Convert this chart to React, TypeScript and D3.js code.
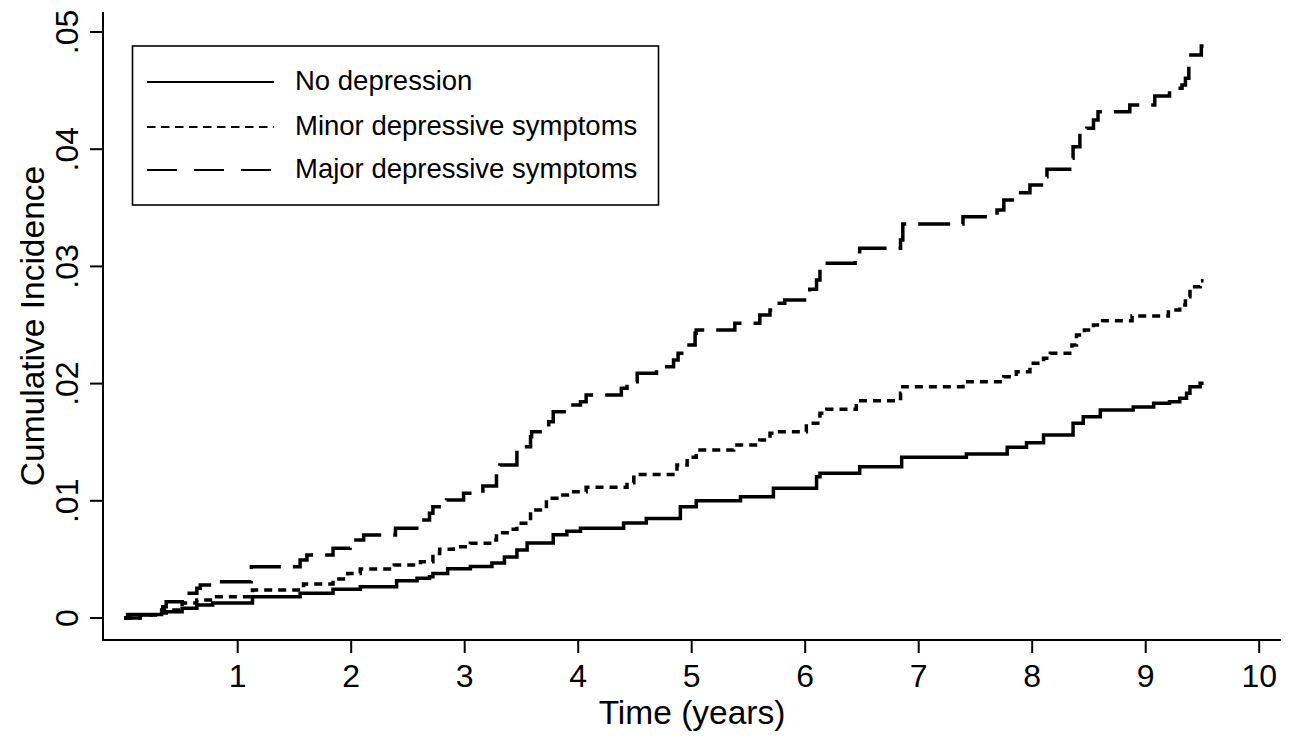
import React from 'react';
import * as d3 from 'd3';

const xTicks = [1, 2, 3, 4, 5, 6, 7, 8, 9, 10];
const yTicks = [0, 0.01, 0.02, 0.03, 0.04, 0.05];
const yTickLabels = ['0', '.01', '.02', '.03', '.04', '.05'];
const seriesNames = ['No depression', 'Minor depressive symptoms', 'Major depressive symptoms'];
const endTime = 9.51;

const noneT = [0, 0.03, 0.33, 0.37, 0.51, 0.64, 0.78, 1.13, 1.55, 1.84, 2.08, 2.40, 2.58, 2.69, 2.72, 2.85, 3.05, 3.24, 3.35, 3.46, 3.55, 3.78, 3.90, 4.02, 4.40, 4.60, 4.90, 5.04, 5.43, 5.72, 6.10, 6.13, 6.48, 6.85, 7.42, 7.78, 7.95, 8.10, 8.36, 8.45, 8.60, 8.89, 9.07, 9.21, 9.30, 9.36, 9.39, 9.48];
const noneV = [0, 0.0003, 0.00043, 0.00054, 0.00083, 0.00111, 0.00128, 0.00182, 0.00211, 0.00245, 0.00267, 0.00318, 0.00339, 0.00352, 0.0038, 0.0042, 0.0044, 0.0047, 0.0052, 0.0058, 0.0064, 0.0071, 0.0074, 0.00765, 0.0081, 0.0085, 0.0095, 0.0100, 0.01035, 0.01107, 0.01206, 0.01235, 0.01291, 0.01371, 0.0140, 0.01457, 0.01496, 0.01561, 0.01661, 0.01718, 0.01775, 0.0180, 0.01832, 0.01846, 0.01875, 0.01917, 0.01974, 0.02003];

const minorT = [0, 0.14, 0.33, 0.51, 0.64, 0.79, 1.13, 1.58, 1.84, 1.97, 2.08, 2.38, 2.61, 2.72, 2.78, 2.90, 3.05, 3.22, 3.28, 3.40, 3.46, 3.58, 3.72, 3.84, 3.96, 4.07, 4.43, 4.49, 4.87, 4.96, 5.04, 5.37, 5.60, 5.69, 5.75, 6.01, 6.13, 6.19, 6.45, 6.84, 6.86, 7.39, 7.75, 7.86, 7.98, 8.10, 8.16, 8.35, 8.39, 8.46, 8.54, 8.62, 8.88, 9.20, 9.30, 9.35, 9.39, 9.48];
const minorV = [0, 0.00026, 0.00068, 0.00128, 0.00154, 0.00182, 0.00239, 0.0029, 0.00333, 0.0038, 0.00418, 0.00452, 0.0048, 0.0055, 0.00586, 0.00608, 0.00637, 0.00666, 0.00728, 0.00757, 0.00808, 0.00922, 0.01021, 0.0105, 0.01078, 0.01115, 0.01154, 0.01225, 0.01305, 0.01371, 0.01433, 0.01476, 0.01519, 0.01576, 0.0159, 0.01661, 0.01747, 0.01781, 0.01853, 0.01917, 0.01974, 0.02016, 0.02059, 0.02102, 0.02173, 0.02216, 0.02259, 0.02329, 0.02415, 0.02457, 0.025, 0.02537, 0.02577, 0.02628, 0.02671, 0.02741, 0.02827, 0.02878];

const majorT = [0, 0.14, 0.34, 0.37, 0.54, 0.64, 0.67, 0.79, 1.12, 1.55, 1.61, 1.84, 1.99, 2.11, 2.39, 2.61, 2.69, 2.72, 2.84, 2.99, 3.16, 3.28, 3.31, 3.46, 3.52, 3.58, 3.59, 3.74, 3.78, 3.90, 4.02, 4.07, 4.38, 4.43, 4.52, 4.69, 4.84, 4.88, 4.93, 5.03, 5.04, 5.38, 5.60, 5.69, 5.73, 5.82, 6.01, 6.04, 6.10, 6.13, 6.44, 6.48, 6.84, 6.86, 7.39, 7.69, 7.75, 7.88, 7.98, 8.11, 8.13, 8.33, 8.36, 8.42, 8.48, 8.54, 8.58, 8.86, 9.08, 9.21, 9.32, 9.35, 9.38, 9.49];
const majorV = [0, 0.00026, 0.00096, 0.00139, 0.00211, 0.00253, 0.00282, 0.0031, 0.00438, 0.00495, 0.00538, 0.00595, 0.00666, 0.00708, 0.00765, 0.00836, 0.00893, 0.0095, 0.01007, 0.01064, 0.01126, 0.01263, 0.01305, 0.01433, 0.01462, 0.01547, 0.0159, 0.01675, 0.0176, 0.01817, 0.01846, 0.01903, 0.0196, 0.02016, 0.02088, 0.02144, 0.02201, 0.02259, 0.02329, 0.02429, 0.02457, 0.02514, 0.02585, 0.02628, 0.02685, 0.02713, 0.0277, 0.02805, 0.02884, 0.03026, 0.03083, 0.03154, 0.03225, 0.03362, 0.03424, 0.03481, 0.03567, 0.03629, 0.03695, 0.03765, 0.03828, 0.03922, 0.04021, 0.04136, 0.04178, 0.04249, 0.0432, 0.04377, 0.04454, 0.0452, 0.04548, 0.04605, 0.04804, 0.0488];

const W = 1298;
const H = 738;
const FONT = "'Liberation Sans', Arial, Helvetica, sans-serif";

export default function App() {
  const x = d3.scaleLinear().domain([0, 10]).range([124.2, 1259.2]);
  const y = d3.scaleLinear().domain([0, 0.05]).range([618, 32]);
  const plotLeft = 103;
  const plotRight = 1281;
  const plotTop = 12;
  const plotBottom = 640;

  const makePts = (ts: number[], vs: number[]) => {
    const pts: [number, number][] = ts.map((t, i) => [t, vs[i]]);
    pts.push([endTime, vs[vs.length - 1]]);
    return pts;
  };
  const line = d3
    .line<[number, number]>()
    .x((d) => x(d[0]))
    .y((d) => y(d[1]))
    .curve(d3.curveStepAfter);

  const series = [
    { name: seriesNames[0], pts: makePts(noneT, noneV), dash: undefined as string | undefined, legDash: undefined as string | undefined },
    { name: seriesNames[1], pts: makePts(minorT, minorV), dash: '8 6', legDash: '8.5 5.5' },
    { name: seriesNames[2], pts: makePts(majorT, majorV), dash: '32 12', legDash: '30 17' },
  ];

  const legRows = [82, 127, 170];

  return (
    <svg width={W} height={H} style={{ position: 'absolute', left: 0, top: 0, background: '#fff' }}>
      <rect x={0} y={0} width={W} height={H} fill="#fff" />
      {/* axes */}
      <line x1={plotLeft} x2={plotLeft} y1={plotTop} y2={plotBottom + 1} stroke="#000" strokeWidth={2} />
      <line x1={plotLeft - 1} x2={plotRight} y1={plotBottom} y2={plotBottom} stroke="#000" strokeWidth={2} />
      {yTicks.map((v, i) => (
        <g key={'y' + i}>
          <line x1={plotLeft - 13} x2={plotLeft} y1={y(v)} y2={y(v)} stroke="#000" strokeWidth={2} />
          <text
            transform={`translate(78,${y(v)}) rotate(-90)`}
            textAnchor="middle"
            fontFamily={FONT}
            fontSize={32}
            fill="#000"
          >
            {yTickLabels[i]}
          </text>
        </g>
      ))}
      {xTicks.map((t) => (
        <g key={'x' + t}>
          <line x1={x(t)} x2={x(t)} y1={plotBottom} y2={plotBottom + 13} stroke="#000" strokeWidth={2} />
          <text x={x(t)} y={687} textAnchor="middle" fontFamily={FONT} fontSize={32} fill="#000">
            {t}
          </text>
        </g>
      ))}
      <text x={(plotLeft + plotRight) / 2} y={724} textAnchor="middle" fontFamily={FONT} fontSize={33.5} fill="#000">
        Time (years)
      </text>
      <text
        transform={`translate(43.5,${(plotTop + plotBottom) / 2}) rotate(-90)`}
        textAnchor="middle"
        fontFamily={FONT}
        fontSize={33.5}
        fill="#000"
      >
        Cumulative Incidence
      </text>
      {/* curves */}
      {series.map((s, i) => (
        <path
          key={'s' + i}
          d={line(s.pts) || ''}
          fill="none"
          stroke="#000"
          strokeWidth={3.5}
          strokeDasharray={s.dash}
          strokeLinejoin="miter"
        />
      ))}
      {/* legend */}
      <rect x={132.5} y={46} width={526} height={159} fill="#fff" stroke="#000" strokeWidth={1.6} />
      {series.map((s, i) => (
        <g key={'l' + i}>
          <line x1={147} x2={274} y1={legRows[i]} y2={legRows[i]} stroke="#000" strokeWidth={2} strokeDasharray={s.legDash} />
          <text x={295} y={legRows[i] + 8} fontFamily={FONT} fontSize={27.5} fill="#000">
            {s.name}
          </text>
        </g>
      ))}
    </svg>
  );
}
